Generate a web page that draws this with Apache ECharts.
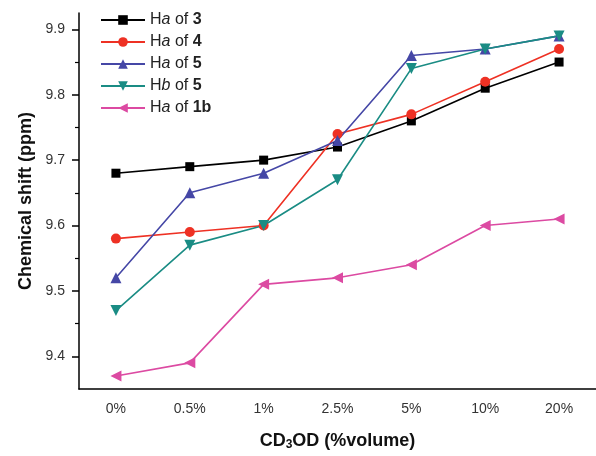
<!DOCTYPE html>
<html><head><meta charset="utf-8">
<script src="https://cdn.jsdelivr.net/npm/echarts@6/dist/echarts.min.js"></script>
<style>html,body{margin:0;padding:0;background:#fff}#c{width:596px;height:456px}</style>
</head><body><div id="c"></div>
<script>
const categories = ['0%', '0.5%', '1%', '2.5%', '5%', '10%', '20%'];
const haOf3  = [9.68, 9.69, 9.70, 9.72, 9.76, 9.81, 9.85];
const haOf4  = [9.58, 9.59, 9.60, 9.74, 9.77, 9.82, 9.87];
const haOf5  = [9.52, 9.65, 9.68, 9.73, 9.86, 9.87, 9.89];
const hbOf5  = [9.47, 9.57, 9.60, 9.67, 9.84, 9.87, 9.89];
const haOf1b = [9.37, 9.39, 9.51, 9.52, 9.54, 9.60, 9.61];
const yMajorTicks = [9.4, 9.5, 9.6, 9.7, 9.8, 9.9];
const yMinorTicks = [9.45, 9.55, 9.65, 9.75, 9.85];
const seriesNames = ['Ha of 3', 'Ha of 4', 'Ha of 5', 'Hb of 5', 'Ha of 1b'];

const legendRich = {
  'Ha of 3': '{n|H}{i|a}{n| of }{b|3}',
  'Ha of 4': '{n|H}{i|a}{n| of }{b|4}',
  'Ha of 5': '{n|H}{i|a}{n| of }{b|5}',
  'Hb of 5': '{n|H}{i|b}{n| of }{b|5}',
  'Ha of 1b': '{n|H}{i|a}{n| of }{b|1b}'
};

const font = 'Liberation Sans, Arial, sans-serif';
const chart = echarts.init(document.getElementById('c'), null, {renderer: 'canvas'});
const YMIN = 9.35, YMAX = 9.925;

function mk(name, data, color, symbol, size) {
  return {
    name, type: 'line', data, xAxisIndex: 0, yAxisIndex: 0,
    symbol, symbolSize: size, showSymbol: true,
    lineStyle: {color, width: 1.6},
    itemStyle: {color},
    emphasis: {disabled: true},
    animation: false
  };
}

chart.setOption({
  animation: false,
  grid: {left: 79, right: 0, top: 13, bottom: 61, containLabel: false},
  legend: {
    orient: 'vertical', left: 100, top: 12, itemGap: 6, padding: 0,
    itemWidth: 44, itemHeight: 12,
    data: seriesNames,
    formatter: n => legendRich[n],
    textStyle: {
      fontFamily: font, fontSize: 16, color: '#222',
      rich: {
        n: {fontFamily: font, fontSize: 16, color: '#222'},
        i: {fontFamily: font, fontSize: 16, fontStyle: 'italic', color: '#222'},
        b: {fontFamily: font, fontSize: 16, fontWeight: 'bold', color: '#222'}
      }
    }
  },
  xAxis: [{
    type: 'category', data: categories, boundaryGap: true, position: 'bottom',
    axisLine: {lineStyle: {color: '#000', width: 1.5}},
    axisTick: {alignWithLabel: true, length: 7, lineStyle: {color: '#000', width: 1.5}},
    axisLabel: {fontFamily: font, fontSize: 14, color: '#333', margin: 13},
    name: '{m|CD}{s|3}{m|OD (%volume)}', nameLocation: 'middle', nameGap: 42,
    nameTextStyle: {
      rich: {
        m: {fontFamily: font, fontSize: 18, fontWeight: 'bold', color: '#111'},
        s: {fontFamily: font, fontSize: 12, fontWeight: 'bold', color: '#111', verticalAlign: 'bottom', padding: [8, 0, 0, 0]}
      }
    },
    splitLine: {show: false}
  }, {
    type: 'category', data: categories, boundaryGap: true, position: 'bottom',
    axisLine: {show: false},
    axisTick: {alignWithLabel: false, length: 4, lineStyle: {color: '#000', width: 1.2}},
    axisLabel: {show: false},
    splitLine: {show: false}
  }],
  yAxis: [{
    type: 'value', min: YMIN, max: YMAX, position: 'left',
    axisLine: {show: true, lineStyle: {color: '#000', width: 1.5}},
    axisTick: {show: true, length: 7, customValues: yMajorTicks, lineStyle: {color: '#000', width: 1.5}},
    axisLabel: {customValues: yMajorTicks, fontFamily: font, fontSize: 14, color: '#333', margin: 14,
      formatter: v => v.toFixed(1)},
    splitLine: {show: false},
    name: 'Chemical shift (ppm)', nameLocation: 'middle', nameGap: 44,
    nameTextStyle: {fontFamily: font, fontSize: 18, fontWeight: 'bold', color: '#111'}
  }, {
    type: 'value', min: YMIN, max: YMAX, position: 'left',
    axisLine: {show: false},
    axisTick: {show: true, length: 4, customValues: yMinorTicks, lineStyle: {color: '#000', width: 1.2}},
    axisLabel: {show: false},
    splitLine: {show: false}
  }],
  series: [
    mk('Ha of 3', haOf3, '#000000', 'rect', 9),
    mk('Ha of 4', haOf4, '#ee3124', 'circle', 10),
    mk('Ha of 5', haOf5, '#4547a6', 'triangle', 11),
    mk('Hb of 5', hbOf5, '#1a8c84', 'path://M0,0 L10,0 L5,9 Z', 11),
    mk('Ha of 1b', haOf1b, '#dc4aa2', 'path://M9,0 L9,10 L0,5 Z', 11)
  ]
});
</script></body></html>
